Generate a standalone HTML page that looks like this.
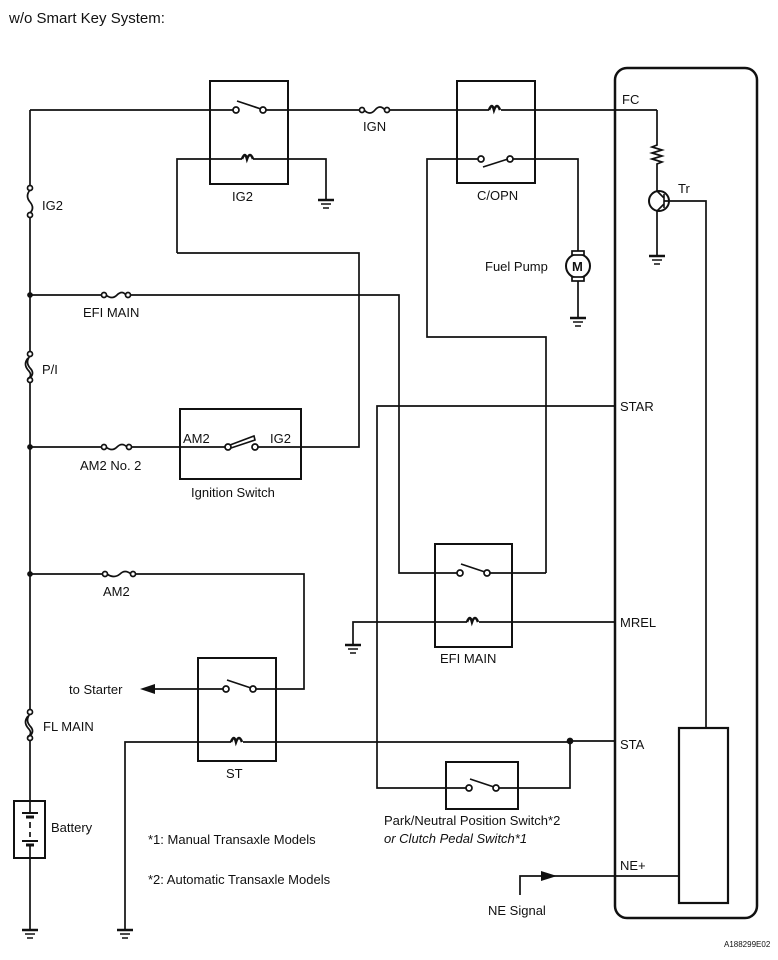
<!DOCTYPE html>
<html><head><meta charset="utf-8"><style>
html,body{margin:0;padding:0;background:#fff;}
svg{display:block;}
text{font-family:"Liberation Sans",Arial,sans-serif;fill:#111;}
</style></head><body>
<svg width="778" height="960" viewBox="0 0 778 960" xmlns="http://www.w3.org/2000/svg">
<defs>
<g id="gnd"><line x1="-8" y1="0" x2="8" y2="0" stroke-width="2.5"/><line x1="-5" y1="4" x2="5" y2="4" stroke-width="1.5"/><line x1="-3" y1="8" x2="3" y2="8" stroke-width="1.5"/></g>
</defs>
<g stroke="#111" stroke-width="1.7" fill="none">
<rect x="615" y="68" width="142" height="850" rx="12" stroke-width="2.5"/>
<rect x="679" y="728" width="49" height="175" stroke-width="2.2"/>
<line x1="30" y1="110" x2="30" y2="188"/>
<line x1="30" y1="215" x2="30" y2="352"/>
<line x1="30" y1="380" x2="30" y2="710"/>
<line x1="30" y1="738" x2="30" y2="801"/>
<line x1="30" y1="858" x2="30" y2="930"/>
<use href="#gnd" x="30" y="930"/>
<line x1="30" y1="110" x2="236" y2="110"/>
<line x1="263" y1="110" x2="360" y2="110"/>
<line x1="388" y1="110" x2="489" y2="110"/>
<line x1="501" y1="110" x2="657" y2="110"/>
<rect x="210" y="81" width="78" height="103" stroke-width="2"/>
<circle cx="236" cy="110" r="3" fill="#fff"/><circle cx="263" cy="110" r="3" fill="#fff"/>
<line x1="237" y1="101" x2="261" y2="109"/>
<path d="M177 253 V159 H242 M253 159 H326 V200"/>
<path d="M242 159 q3 -8 5 0 q3 -8 6 0" stroke-width="2.6"/>
<use href="#gnd" x="326" y="200"/>
<circle cx="30" cy="188" r="2.5" fill="#fff"/><circle cx="30" cy="215" r="2.5" fill="#fff"/>
<path d="M30 190 q-5 6 0 12 q5 6 0 11"/>
<circle cx="362" cy="110" r="2.5" fill="#fff"/><circle cx="387" cy="110" r="2.5" fill="#fff"/>
<path d="M364 110 q6 6 11 0 q5 -6 10 0"/>
<rect x="457" y="81" width="78" height="102" stroke-width="2"/>
<path d="M489 110 q3 -8 5 0 q3 -8 6 0" stroke-width="2.6"/>
<circle cx="481" cy="159" r="3" fill="#fff"/><circle cx="510" cy="159" r="3" fill="#fff"/>
<line x1="483" y1="167" x2="508" y2="159"/>
<path d="M478 159 H427 V337 H546 V573"/>
<path d="M513 159 H578 V254"/>
<line x1="578" y1="278" x2="578" y2="318"/>
<use href="#gnd" x="578" y="318"/>
<circle cx="578" cy="266" r="12" stroke-width="2"/>
<rect x="572" y="251" width="12" height="4" fill="#fff"/>
<rect x="572" y="277" width="12" height="4" fill="#fff"/>
<path d="M657 110 V145 l-5 2 l10 3 l-10 3 l10 3 l-10 3 l10 3 l-5 2 V191"/>
<circle cx="659" cy="201" r="10" stroke-width="2"/>
<path d="M664 194 V208 M657 191 L664 198 M664 204 L657 211" stroke-width="1.6"/>
<path d="M657 211 V256"/>
<use href="#gnd" x="657" y="256"/>
<path d="M664 201 H706 V728"/>
<line x1="30" y1="295" x2="103" y2="295"/>
<circle cx="104" cy="295" r="2.5" fill="#fff"/><circle cx="128" cy="295" r="2.5" fill="#fff"/>
<path d="M106 295 q6 5 11 0 q5 -5 9 0"/>
<path d="M131 295 H399 V573 H458"/>
<circle cx="30" cy="295" r="2" fill="#111"/>
<circle cx="30" cy="354" r="2.5" fill="#fff"/><circle cx="30" cy="380" r="2.5" fill="#fff"/>
<path d="M30 356 q-5 6 0 12 q5 5 0 10 M28 358 q-5 6 0 12 q5 5 0 9"/>
<line x1="30" y1="447" x2="102" y2="447"/>
<circle cx="104" cy="447" r="2.5" fill="#fff"/><circle cx="129" cy="447" r="2.5" fill="#fff"/>
<path d="M106 447 q6 5 11 0 q5 -5 10 0"/>
<path d="M131 447 H226"/>
<circle cx="30" cy="447" r="2" fill="#111"/>
<rect x="180" y="409" width="121" height="70" stroke-width="2"/>
<circle cx="228" cy="447" r="3" fill="#fff"/><circle cx="255" cy="447" r="3" fill="#fff"/>
<path d="M230 445 L254 436 l1 4 L231 448" stroke-width="1.6"/>
<path d="M258 447 H359 V253 H177"/>
<path d="M615 406 H377 V788 H466"/>
<rect x="435" y="544" width="77" height="103" stroke-width="2"/>
<circle cx="460" cy="573" r="3" fill="#fff"/><circle cx="487" cy="573" r="3" fill="#fff"/>
<line x1="461" y1="564" x2="485" y2="572"/>
<path d="M490 573 H546"/>
<path d="M353 645 V622 H467 M479 622 H615"/>
<path d="M467 622 q3 -8 5 0 q3 -8 6 0" stroke-width="2.6"/>
<use href="#gnd" x="353" y="645"/>
<line x1="30" y1="574" x2="103" y2="574"/>
<circle cx="30" cy="574" r="2" fill="#111"/>
<circle cx="105" cy="574" r="2.5" fill="#fff"/><circle cx="133" cy="574" r="2.5" fill="#fff"/>
<path d="M107 574 q7 5 13 0 q5 -5 11 0"/>
<path d="M136 574 H304 V689 H256"/>
<rect x="198" y="658" width="78" height="103" stroke-width="2"/>
<circle cx="226" cy="689" r="3" fill="#fff"/><circle cx="253" cy="689" r="3" fill="#fff"/>
<line x1="227" y1="680" x2="251" y2="688"/>
<line x1="223" y1="689" x2="152" y2="689"/>
<path d="M140 689 L155 684 L155 694 Z" fill="#111" stroke="none"/>
<path d="M125 930 V742 H231 M243 742 H570 M570 741 H615"/>
<path d="M231 742 q3 -8 5 0 q3 -8 6 0" stroke-width="2.6"/>
<use href="#gnd" x="125" y="930"/>
<circle cx="30" cy="712" r="2.5" fill="#fff"/><circle cx="30" cy="738" r="2.5" fill="#fff"/>
<path d="M30 714 q-5 6 0 12 q5 5 0 10 M28 716 q-5 6 0 12 q5 5 0 9"/>
<rect x="14" y="801" width="31" height="57" stroke-width="2"/>
<line x1="30" y1="801" x2="30" y2="812"/>
<line x1="22" y1="813" x2="38" y2="813" stroke-width="2"/>
<line x1="26" y1="817" x2="34" y2="817" stroke-width="3"/>
<line x1="30" y1="822" x2="30" y2="828"/><line x1="30" y1="832" x2="30" y2="837"/>
<line x1="22" y1="841" x2="38" y2="841" stroke-width="2"/>
<line x1="26" y1="845" x2="34" y2="845" stroke-width="3"/>
<line x1="30" y1="846" x2="30" y2="858"/>
<rect x="446" y="762" width="72" height="47" stroke-width="2"/>
<circle cx="469" cy="788" r="3" fill="#fff"/><circle cx="496" cy="788" r="3" fill="#fff"/>
<line x1="470" y1="779" x2="494" y2="787"/>
<path d="M499 788 H570 V741"/>
<circle cx="570" cy="741" r="2.5" fill="#111"/>
<path d="M520 895 V876 H679"/>
<path d="M557 876 L541 871 L541 881 Z" fill="#111" stroke="none"/>
</g>
<g font-size="13">
<text x="9" y="23" font-size="15">w/o Smart Key System:</text>
<text x="42" y="210">IG2</text>
<text x="232" y="201">IG2</text>
<text x="363" y="131">IGN</text>
<text x="477" y="200">C/OPN</text>
<text x="622" y="104">FC</text>
<text x="678" y="193">Tr</text>
<text x="485" y="271">Fuel Pump</text>
<text x="572" y="271" font-size="13" font-weight="bold">M</text>
<text x="83" y="317">EFI MAIN</text>
<text x="42" y="374">P/I</text>
<text x="80" y="470">AM2 No. 2</text>
<text x="183" y="443">AM2</text>
<text x="270" y="443">IG2</text>
<text x="191" y="497">Ignition Switch</text>
<text x="620" y="411">STAR</text>
<text x="440" y="663">EFI MAIN</text>
<text x="620" y="627">MREL</text>
<text x="103" y="596">AM2</text>
<text x="69" y="694">to Starter</text>
<text x="43" y="731">FL MAIN</text>
<text x="226" y="778">ST</text>
<text x="620" y="749">STA</text>
<text x="51" y="832">Battery</text>
<text x="148" y="844">*1: Manual Transaxle Models</text>
<text x="148" y="884">*2: Automatic Transaxle Models</text>
<text x="384" y="825">Park/Neutral Position Switch*2</text>
<text x="384" y="843" font-style="italic">or Clutch Pedal Switch*1</text>
<text x="620" y="870">NE+</text>
<text x="488" y="915">NE Signal</text>
<text x="724" y="947" font-size="8">A188299E02</text>
</g>
</svg>
</body></html>
